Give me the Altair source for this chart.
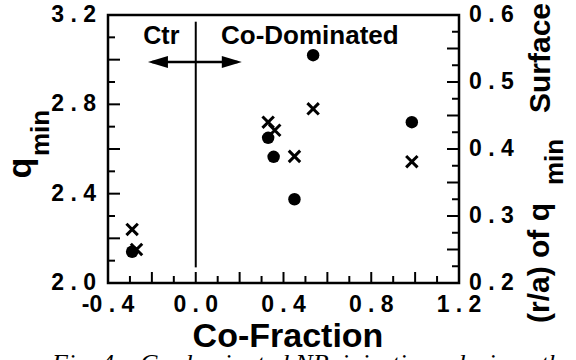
import altair as alt
import pandas as pd

# ---- data ----
co_fraction_circles = [-0.29, 0.33, 0.355, 0.45, 0.535, 0.985]
q_min = [2.14, 2.65, 2.565, 2.375, 3.02, 2.72]

co_fraction_crosses = [-0.29, -0.27, 0.33, 0.36, 0.45, 0.535, 0.985]
r_over_a = [0.28, 0.25, 0.44, 0.428, 0.389, 0.46, 0.381]

x_label_values = [-0.4, 0.0, 0.4, 0.8, 1.2]
yl_label_values = [2.0, 2.4, 2.8, 3.2]
yr_label_values = [0.2, 0.3, 0.4, 0.5, 0.6]

x_major_ticks = [-0.4, -0.2, 0.0, 0.2, 0.4, 0.6, 0.8, 1.0, 1.2]
x_minor_ticks = [-0.3, -0.1, 0.1, 0.3, 0.5, 0.7, 0.9, 1.1]
yl_major_ticks = [2.0, 2.2, 2.4, 2.6, 2.8, 3.0, 3.2]
yl_minor_ticks = [2.1, 2.3, 2.5, 2.7, 2.9, 3.1]
yr_major_ticks = [0.2, 0.25, 0.3, 0.35, 0.4, 0.45, 0.5, 0.55, 0.6]
yr_minor_ticks = [0.225, 0.275, 0.325, 0.375, 0.425, 0.475, 0.525, 0.575]

divider_x = [0.0]
divider_y = [2.07, 3.17]
arrow_x = [-0.218, 0.21]
arrow_y = [2.99]
region_labels = ["Ctr", "Co-Dominated"]
region_label_x = [-0.157, 0.115]
region_label_y = [3.104, 3.104]
caption = "Fig. 4.\u00a0\u00a0 Co-dominated NB\u00a0 injection\u00a0\u00a0 during\u00a0\u00a0 the"

# ---- layout ----
W, H = 351, 268
FONT = "Liberation Sans"
XS = alt.Scale(domain=[-0.4, 1.2], nice=False, zero=False)
YL = alt.Scale(domain=[2.0, 3.2], nice=False, zero=False)
YR = alt.Scale(domain=[0.2, 0.6], nice=False, zero=False)


def spaced(v):
    return f"{v:.1f}".replace(".", " . ")


circles_df = pd.DataFrame({"x": co_fraction_circles, "q": q_min})
crosses_df = pd.DataFrame({"x": co_fraction_crosses, "r": r_over_a})

circles = alt.Chart(circles_df).mark_point(
    filled=True, shape="circle", size=155, color="black", opacity=1
).encode(
    x=alt.X("x:Q", scale=XS, axis=None),
    y=alt.Y("q:Q", scale=YL, axis=None),
)


def hticks(vals, scale, x0, x1):
    return alt.Chart(pd.DataFrame({"v": vals})).mark_rule(
        color="black", strokeWidth=2
    ).encode(y=alt.Y("v:Q", scale=scale, axis=None), x=alt.value(x0), x2=alt.value(x1))


def vticks(vals, length):
    return alt.Chart(pd.DataFrame({"v": vals})).mark_rule(
        color="black", strokeWidth=2
    ).encode(x=alt.X("v:Q", scale=XS, axis=None), y=alt.value(H), y2=alt.value(H - length))


def ylabels(vals, scale, px, align):
    df = pd.DataFrame({"v": vals, "t": [spaced(v) for v in vals]})
    return alt.Chart(df).mark_text(
        font=FONT, fontWeight="bold", fontSize=23, align=align, baseline="middle", color="black"
    ).encode(y=alt.Y("v:Q", scale=scale, axis=None), x=alt.value(px), text="t:N")


def xlabels(vals):
    df = pd.DataFrame({"v": vals, "t": [spaced(v) for v in vals]})
    return alt.Chart(df).mark_text(
        font=FONT, fontWeight="bold", fontSize=23, align="center", baseline="top", color="black"
    ).encode(x=alt.X("v:Q", scale=XS, axis=None), y=alt.value(H + 11), text="t:N")


divider = alt.Chart(pd.DataFrame({"x": divider_x, "y1": [divider_y[0]], "y2": [divider_y[1]]})).mark_rule(
    color="black", strokeWidth=2
).encode(x=alt.X("x:Q", scale=XS, axis=None), y=alt.Y("y1:Q", scale=YL, axis=None), y2="y2:Q")

arrow_line = alt.Chart(pd.DataFrame({"x1": [arrow_x[0] + 0.02], "x2": [arrow_x[1] - 0.02], "y": arrow_y})).mark_rule(
    color="black", strokeWidth=2.5
).encode(x=alt.X("x1:Q", scale=XS, axis=None), x2="x2:Q", y=alt.Y("y:Q", scale=YL, axis=None))

head_left = alt.Chart(pd.DataFrame({"x": [arrow_x[0]], "y": arrow_y})).mark_point(
    shape="M0,0L2,-0.6L2,0.6Z", filled=True, size=400, color="black", opacity=1
).encode(x=alt.X("x:Q", scale=XS, axis=None), y=alt.Y("y:Q", scale=YL, axis=None))

head_right = alt.Chart(pd.DataFrame({"x": [arrow_x[1]], "y": arrow_y})).mark_point(
    shape="M0,0L-2,-0.6L-2,0.6Z", filled=True, size=400, color="black", opacity=1
).encode(x=alt.X("x:Q", scale=XS, axis=None), y=alt.Y("y:Q", scale=YL, axis=None))

region_df = pd.DataFrame({"t": region_labels, "x": region_label_x, "y": region_label_y,
                          "a": ["center", "left"]})

region_text = alt.Chart(region_df).transform_filter("datum.a == 'center'").mark_text(
    font=FONT, fontWeight="bold", fontSize=25, align="center", baseline="middle", color="black"
).encode(x=alt.X("x:Q", scale=XS, axis=None), y=alt.Y("y:Q", scale=YL, axis=None), text="t:N")

region_text2 = alt.Chart(region_df).transform_filter("datum.a == 'left'").mark_text(
    font=FONT, fontWeight="bold", fontSize=26, align="left", baseline="middle", color="black"
).encode(x=alt.X("x:Q", scale=XS, axis=None), y=alt.Y("y:Q", scale=YL, axis=None), text="t:N")


def label(text, px, py, size, angle=270, align="center", baseline="middle", font=FONT,
          weight="bold", style="normal"):
    return alt.Chart(pd.DataFrame({"t": [text]})).mark_text(
        font=font, fontWeight=weight, fontStyle=style, fontSize=size, angle=angle,
        align=align, baseline=baseline, color="black"
    ).encode(x=alt.value(px), y=alt.value(py), text="t:N")


left_layer = alt.layer(
    circles,
    hticks(yl_major_ticks, YL, 0, 12), hticks(yl_minor_ticks, YL, 0, 7),
    vticks(x_major_ticks, 11), vticks(x_minor_ticks, 7),
    ylabels(yl_label_values, YL, -12, "right"),
    xlabels(x_label_values),
    divider, arrow_line, head_left, head_right, region_text, region_text2,
    label("Co-Fraction", 180, 305, 34, angle=0, baseline="top"),
    label("q", -87, 153, 34),
    label("min", -67.5, 118, 26),
    label("(r/a) of q", W + 81, 248, 30),
    label("min", W + 96, 147, 26),
    label("Surface", W + 82, 43, 30),
    label(caption, -56, 336, 26, angle=0, align="left", baseline="top",
          font="Liberation Serif", weight="normal", style="italic"),
)

crosses = alt.Chart(crosses_df).mark_point(
    shape="M-1,-1L1,1M1,-1L-1,1", filled=False, size=130, strokeWidth=3,
    color="black", opacity=1
).encode(
    x=alt.X("x:Q", scale=XS, axis=None),
    y=alt.Y("r:Q", scale=YR, axis=None),
)

right_layer = alt.layer(
    crosses,
    hticks(yr_major_ticks, YR, W, W - 12), hticks(yr_minor_ticks, YR, W, W - 7),
    ylabels(yr_label_values, YR, W + 10, "left"),
)

chart = alt.layer(left_layer, right_layer).resolve_scale(y="independent").properties(
    width=W, height=H,
    autosize=alt.AutoSizeParams(type="none"),
    padding={"left": 108, "top": 15, "right": 117, "bottom": 77},
    background="white",
).configure_view(
    stroke="black", strokeWidth=2.5
)

chart.save("out.html", embed_options={"renderer": "svg", "actions": False})
